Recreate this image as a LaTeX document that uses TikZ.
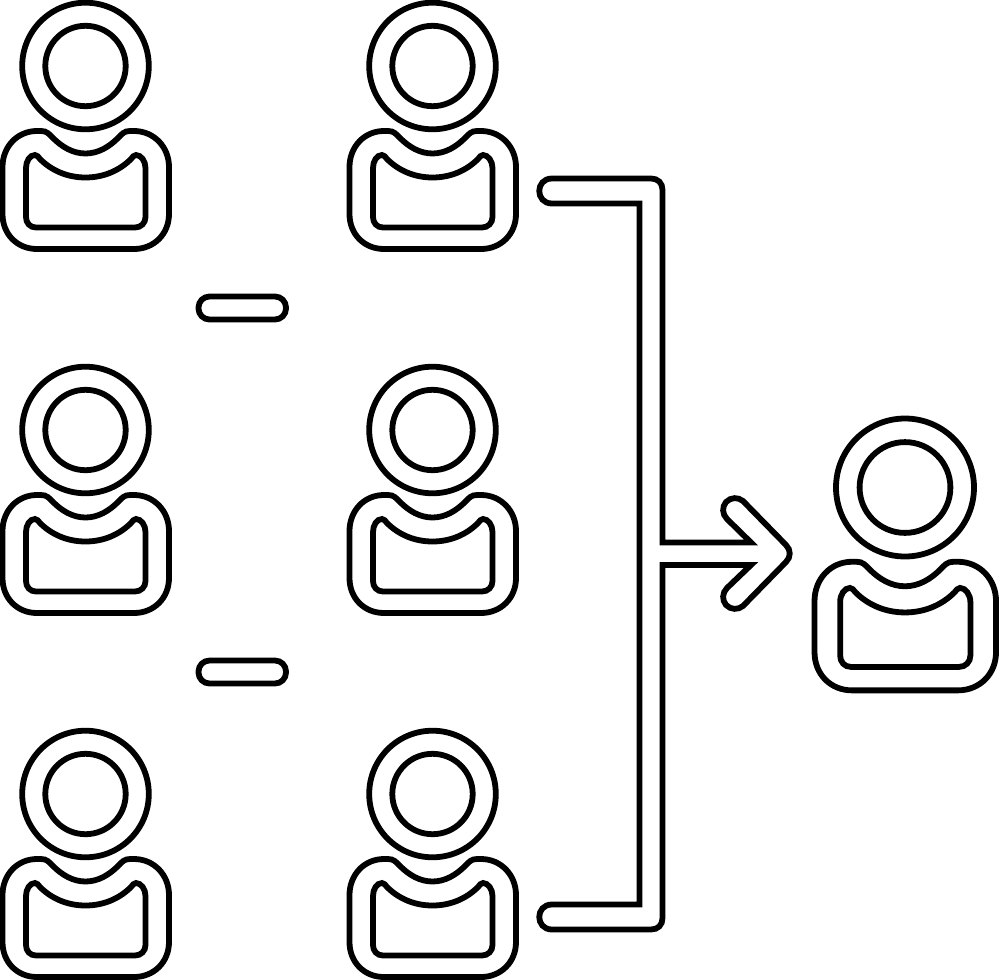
\documentclass[tikz,border=0pt]{standalone}
\tikzset{
  ink/.style={draw=black,line width=5.8pt,line join=miter,miter limit=10,fill=none},
}
% centre x, centre y, scale, inner circle radius, body shift
\newcommand{\personfig}[5]{%
\begin{scope}[shift={(#1,#2)}]
  \draw[ink] (0,0) circle [radius=#3*63.3];
  \draw[ink] (0,0) circle [radius=#4];
\end{scope}
\begin{scope}[shift={(#1,#2+#5)},scale=#3,shift={(-85.5,-66)}]
  \draw[ink] (2.5,167) .. controls (2.5,147) and (17,131) .. (37,131)
    -- (41,131) .. controls (47,131) and (49,134) .. (53,138)
    .. controls (62,147) and (73,153.5) .. (85.5,153.5)
    .. controls (98,153.5) and (109,147) .. (118,138)
    .. controls (122,134) and (124,131) .. (130,131)
    -- (134,131) .. controls (154,131) and (169,147) .. (169,167)
    -- (169,214) .. controls (169,234) and (154,249) .. (134,249)
    -- (37,249) .. controls (17,249) and (2.5,234) .. (2.5,214) -- cycle;
  \draw[ink] (26,168) .. controls (26,161) and (30,155) .. (35,155)
    .. controls (37.5,155) and (38,157) .. (40,159)
    .. controls (52,171) and (68,177.5) .. (85.5,177.5)
    .. controls (103,177.5) and (119,171) .. (131,159)
    .. controls (133,157) and (133.5,155) .. (136,155)
    .. controls (141,155) and (145.5,161) .. (145.5,168)
    -- (145.5,217) .. controls (145.5,223) and (141,227.5) .. (135,227.5)
    -- (36,227.5) .. controls (30,227.5) and (26,223) .. (26,217) -- cycle;
\end{scope}}
\newcommand{\minusbar}[1]{%
  \draw[ink,rounded corners=11pt] (198.5,#1) rectangle (286,#1+23);}
\begin{document}
\begin{tikzpicture}[x=1pt,y=-1pt]
  \useasboundingbox (0,0) rectangle (999,980);
  \personfig{85.5}{66}{1}{40.2}{0}
  \personfig{85.5}{430}{1}{40.2}{0}
  \personfig{85.5}{794}{1}{40.2}{0}
  \personfig{432.5}{66}{1}{40.2}{0}
  \personfig{432.5}{430}{1}{40.2}{0}
  \personfig{432.5}{794}{1}{40.2}{0}
  \personfig{905}{487.5}{1.09}{45.4}{3.4}
  \minusbar{296.5}
  \minusbar{660.5}
  \draw[ink] (552,178.5) -- (651,178.5)
    .. controls (658,178.5) and (662.5,183) .. (662.5,190)
    -- (662.5,542.5) -- (751,542.5) -- (727,519)
    .. controls (722,514) and (722,507) .. (726,502)
    .. controls (731,497) and (738,497) .. (743,501)
    -- (786,545) .. controls (791,550) and (791,557) .. (786,562)
    -- (743,606)
    .. controls (738,610) and (731,610) .. (726,605)
    .. controls (722,600) and (722,593) .. (727,588)
    -- (751,565) -- (662.5,565) -- (662.5,918)
    .. controls (662.5,925) and (658,929.5) .. (651,929.5)
    -- (552,929.5)
    .. controls (535,929.5) and (535,904.5) .. (552,904.5)
    -- (639.5,904.5) -- (639.5,203.5) -- (552,203.5)
    .. controls (535,203.5) and (535,178.5) .. (552,178.5) -- cycle;
\end{tikzpicture}
\end{document}
